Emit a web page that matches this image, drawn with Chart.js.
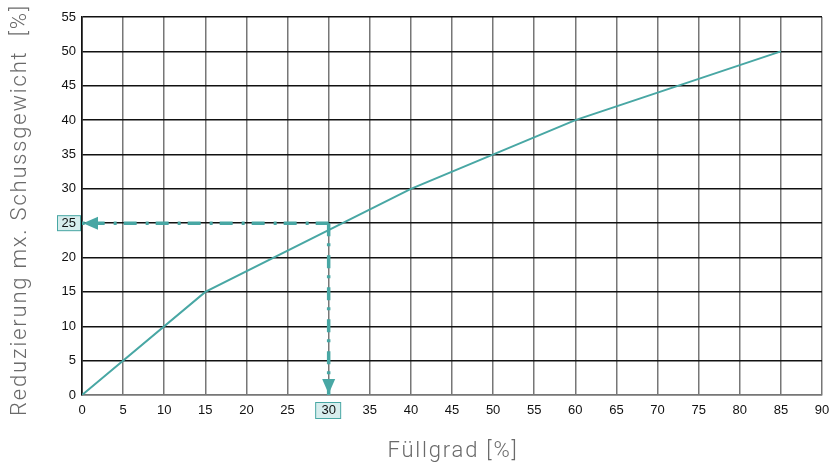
<!DOCTYPE html>
<html>
<head>
<meta charset="utf-8">
<script src="https://cdn.jsdelivr.net/npm/chart.js@4"></script>
<style>
  html, body { margin: 0; padding: 0; background: #fff; }
  #wrap { width: 831px; height: 465px; }
</style>
</head>
<body>
<div id="wrap"><canvas id="chart" width="831" height="465"></canvas></div>
<script>
// Kurve: Füllgrad -> Reduzierung
const fillLevel = [0, 15, 40, 60, 85];
const reduction = [0, 15, 30, 40, 50];

// Ablesebeispiel
const markX = 30;
const markY = 25;

const xTitle = "Füllgrad [%]";
const yTitle = "Reduzierung mx. Schussgewicht  [%]";

const teal = "#48a7a4";
const tealLight = "#d7eded";
const titleFont = "300 22px Roboto";

// Kästchen hinter markierten Tick-Labels, Pfeilspitzen, Achsentitel
const markPlugin = {
  id: "markPlugin",
  beforeDraw(chart) {
    const { ctx, scales: { x, y } } = chart;
    ctx.save();
    ctx.fillStyle = tealLight;
    ctx.strokeStyle = teal;
    ctx.lineWidth = 1;
    const py = y.getPixelForValue(markY);
    ctx.fillRect(57.5, py - 7.5, 23, 15);
    ctx.strokeRect(57.5, py - 7.5, 23, 15);
    const px = x.getPixelForValue(markX);
    ctx.fillRect(px - 13, y.bottom + 7.5, 25, 16);
    ctx.strokeRect(px - 13, y.bottom + 7.5, 25, 16);
    ctx.restore();
  },
  afterDatasetsDraw(chart) {
    const { ctx, scales: { x, y } } = chart;
    ctx.save();
    ctx.fillStyle = teal;
    // links
    const ax = x.getPixelForValue(0), ay = y.getPixelForValue(markY);
    ctx.beginPath();
    ctx.moveTo(ax + 1, ay);
    ctx.lineTo(ax + 16, ay - 6.5);
    ctx.lineTo(ax + 16, ay + 6.5);
    ctx.closePath();
    ctx.fill();
    // unten
    const bx = x.getPixelForValue(markX), by = y.getPixelForValue(0);
    ctx.beginPath();
    ctx.moveTo(bx, by - 1);
    ctx.lineTo(bx - 6.5, by - 16);
    ctx.lineTo(bx + 6.5, by - 16);
    ctx.closePath();
    ctx.fill();
    ctx.restore();
  },
  afterDraw(chart) {
    const { ctx, chartArea } = chart;
    ctx.save();
    ctx.font = titleFont;
    ctx.fillStyle = "#6a6a6a";
    ctx.letterSpacing = "1.8px";
    ctx.textAlign = "center";
    ctx.textBaseline = "middle";
    ctx.fillText(xTitle, 453, 451);
    ctx.translate(20, 210);
    ctx.rotate(-Math.PI / 2);
    ctx.fillText(yTitle, 0, 0);
    ctx.restore();
  }
};

const dashStyle = { borderColor: teal, borderWidth: 3.5, borderDash: [13, 7, 3, 9], pointRadius: 0 };

new Chart(document.getElementById("chart"), {
  type: "line",
  data: {
    datasets: [
      {
        data: fillLevel.map((v, i) => ({ x: v, y: reduction[i] })),
        borderColor: teal,
        borderWidth: 2,
        pointRadius: 0,
        tension: 0
      },
      Object.assign({ data: [{ x: markX, y: markY }, { x: 0, y: markY }] }, dashStyle),
      Object.assign({ data: [{ x: markX, y: markY }, { x: markX, y: 0 }] }, dashStyle)
    ]
  },
  options: {
    responsive: false,
    animation: false,
    layout: { padding: { top: 17, right: 0, left: 0, bottom: 0 } },
    plugins: { legend: { display: false }, tooltip: { enabled: false } },
    scales: {
      x: {
        type: "linear",
        min: 0, max: 90,
        ticks: { stepSize: 5, color: "#111", padding: 8, font: { family: "Liberation Sans", size: 13 } },
        grid: {
          drawTicks: false,
          color: c => c.tick && c.tick.value === 0 ? "#111" : "#777",
          lineWidth: 1.5
        },
        border: { color: "#777", width: 1.5 },
        afterFit(s) { s.height = 70; s.paddingRight = 9; }
      },
      y: {
        min: 0, max: 55,
        ticks: { stepSize: 5, color: "#111", padding: 6, font: { family: "Liberation Sans", size: 13 } },
        grid: {
          drawTicks: false,
          color: c => c.tick && c.tick.value === 0 ? "#777" : "#111",
          lineWidth: 1.5
        },
        border: { color: "#111", width: 1.5 },
        afterFit(s) { s.width = 82; }
      }
    }
  },
  plugins: [markPlugin]
});
</script>
</body>
</html>
